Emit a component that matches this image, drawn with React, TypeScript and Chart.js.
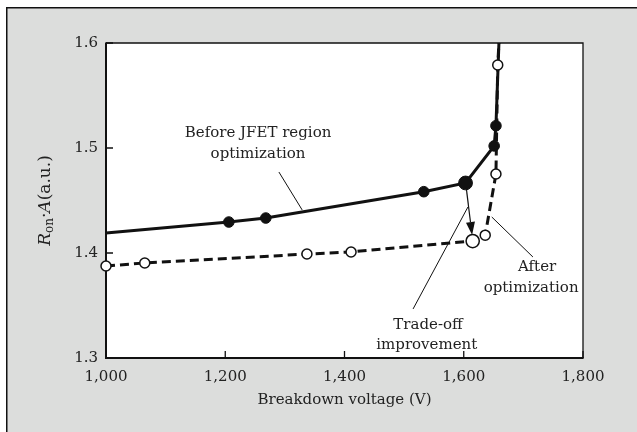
import React, { useEffect, useRef } from "react";
import { Chart, registerables } from "chart.js";

Chart.register(...registerables);

// ---- data ----
const xTickValues = [1000, 1200, 1400, 1600, 1800];
const yTickValues = [1.3, 1.4, 1.5, 1.6];

// Before JFET region optimization (solid, filled markers)
const beforeVoltage = [1000, 1206, 1268, 1533, 1603, 1651, 1654, 1659];
const beforeRonA = [1.419, 1.4295, 1.4333, 1.4584, 1.4667, 1.502, 1.5212, 1.6];

// After optimization (dashed, open markers)
const afterVoltage = [1000, 1065, 1337, 1411, 1615, 1636, 1654, 1657, 1659];
const afterRonA = [1.3876, 1.3905, 1.399, 1.401, 1.4114, 1.417, 1.4752, 1.579, 1.6];

const xTitle = "Breakdown voltage (V)";

// annotation texts and anchors (data units)
const noteTexts = ["Before JFET region", "optimization", "After", "optimization", "Trade-off", "improvement"];
const noteVoltage = [1255, 1255, 1723, 1713, 1540, 1538];
const noteRonA = [1.5143, 1.4943, 1.3867, 1.3667, 1.3314, 1.3124];

// leader lines [v1, r1, v2, r2]
const leaderLines = [
  [1290, 1.4771, 1329, 1.441],
  [1647, 1.4343, 1716, 1.3962],
  [1607, 1.4438, 1515, 1.3467],
];
// trade-off arrow [from v, from r, to v, to r]
const arrowLine = [1604, 1.4629, 1614, 1.4171];

// ---- styles ----
const GRAY = "#dcdddc";
const INK = "#111111";
const TEXT = "#222222";
const FONT = "'DejaVu Serif', serif";
const BEFORE_HIDDEN = [0, 7];
const BEFORE_BIG = 4;
const AFTER_HIDDEN = [8];
const AFTER_BIG = 4;
const R_SMALL = 5;
const R_BIG = 6.6;

const PLOT_LEFT = 106;
const PLOT_TOP = 43;
const PLOT_RIGHT_PAD = 54;
const X_AXIS_H = 74;

const decorPlugin = {
  id: "decor",
  beforeDraw(chart: any) {
    const { ctx, width, height, chartArea: a } = chart;
    ctx.save();
    ctx.fillStyle = "#ffffff";
    ctx.fillRect(0, 0, width, height);
    ctx.fillStyle = GRAY;
    ctx.fillRect(6, 7, width - 6, height - 7);
    ctx.strokeStyle = INK;
    ctx.lineWidth = 1.5;
    ctx.beginPath();
    ctx.moveTo(6.75, height);
    ctx.lineTo(6.75, 7.75);
    ctx.lineTo(width, 7.75);
    ctx.stroke();
    ctx.fillStyle = "#ffffff";
    ctx.fillRect(a.left, a.top, a.right - a.left, a.bottom - a.top);
    ctx.restore();
  },
  beforeDatasetsDraw(chart: any) {
    const { ctx, chartArea: a, scales } = chart;
    ctx.save();
    ctx.strokeStyle = INK;
    ctx.lineWidth = 1.3;
    ctx.beginPath();
    ctx.moveTo(a.left, a.top);
    ctx.lineTo(a.right, a.top);
    ctx.lineTo(a.right, a.bottom);
    ctx.stroke();
    ctx.lineWidth = 2;
    ctx.beginPath();
    ctx.moveTo(a.left, a.top - 0.6);
    ctx.lineTo(a.left, a.bottom);
    ctx.lineTo(a.right + 0.6, a.bottom);
    ctx.stroke();
    ctx.lineWidth = 1.3;
    ctx.beginPath();
    yTickValues.forEach((v) => {
      const y = scales.y.getPixelForValue(v);
      ctx.moveTo(a.left, y);
      ctx.lineTo(a.left + 7, y);
    });
    xTickValues.forEach((v) => {
      const x = scales.x.getPixelForValue(v);
      ctx.moveTo(x, a.bottom);
      ctx.lineTo(x, a.bottom - 7);
    });
    ctx.stroke();
    ctx.restore();
  },
  afterDatasetsDraw(chart: any) {
    const { ctx, chartArea: a, scales } = chart;
    const X = (v: number) => scales.x.getPixelForValue(v);
    const Y = (v: number) => scales.y.getPixelForValue(v);
    ctx.save();
    // leader lines
    ctx.strokeStyle = INK;
    ctx.lineWidth = 1;
    leaderLines.forEach(([v1, r1, v2, r2]) => {
      ctx.beginPath();
      ctx.moveTo(X(v1), Y(r1));
      ctx.lineTo(X(v2), Y(r2));
      ctx.stroke();
    });
    // arrow
    const [av1, ar1, av2, ar2] = arrowLine;
    const x1 = X(av1), y1 = Y(ar1), x2 = X(av2), y2 = Y(ar2);
    const ang = Math.atan2(y2 - y1, x2 - x1);
    const headLen = 13, headW = 4.5;
    const bx = x2 - headLen * Math.cos(ang), by = y2 - headLen * Math.sin(ang);
    ctx.lineWidth = 1.2;
    ctx.beginPath();
    ctx.moveTo(x1, y1);
    ctx.lineTo(bx, by);
    ctx.stroke();
    ctx.fillStyle = INK;
    ctx.beginPath();
    ctx.moveTo(x2, y2);
    ctx.lineTo(bx + headW * Math.sin(ang), by - headW * Math.cos(ang));
    ctx.lineTo(bx - headW * Math.sin(ang), by + headW * Math.cos(ang));
    ctx.closePath();
    ctx.fill();
    // notes
    ctx.fillStyle = TEXT;
    ctx.font = `15px ${FONT}`;
    ctx.textAlign = "center";
    ctx.textBaseline = "middle";
    noteTexts.forEach((t, i) => {
      ctx.fillText(t, X(noteVoltage[i]), Y(noteRonA[i]));
    });
    // x title
    ctx.fillText(xTitle, (a.left + a.right) / 2, 400);
    // y title: R_on·A(a.u.)
    const parts = [
      { t: "R", f: `italic 17px ${FONT}`, dy: 0 },
      { t: "on", f: `12px ${FONT}`, dy: 3 },
      { t: "·", f: `17px ${FONT}`, dy: 0 },
      { t: "A", f: `italic 17px ${FONT}`, dy: 0 },
      { t: "(a.u.)", f: `17px ${FONT}`, dy: 0 },
    ];
    let total = 0;
    const widths = parts.map((p) => {
      ctx.font = p.f;
      const w = ctx.measureText(p.t).width;
      total += w;
      return w;
    });
    ctx.translate(44, (a.top + a.bottom) / 2);
    ctx.rotate(-Math.PI / 2);
    ctx.textAlign = "left";
    ctx.textBaseline = "alphabetic";
    let cx = -total / 2;
    parts.forEach((p, i) => {
      ctx.font = p.f;
      ctx.fillText(p.t, cx, 6 + p.dy);
      cx += widths[i];
    });
    ctx.restore();
  },
};

export default function App() {
  const ref = useRef<HTMLCanvasElement | null>(null);
  useEffect(() => {
    if (!ref.current) return;
    const chart = new Chart(ref.current, {
      type: "line",
      data: {
        datasets: [
          {
            label: "After optimization",
            data: afterVoltage.map((v, i) => ({ x: v, y: afterRonA[i] })),
            borderColor: INK,
            borderWidth: 3,
            borderDash: [9, 5],
            backgroundColor: "#ffffff",
            pointBackgroundColor: "#ffffff",
            pointBorderColor: INK,
            pointBorderWidth: 1.5,
            pointRadius: (c: any) =>
              AFTER_HIDDEN.includes(c.dataIndex) ? 0 : c.dataIndex === AFTER_BIG ? R_BIG : R_SMALL,
            tension: 0,
            clip: false as any,
          },
          {
            label: "Before JFET region optimization",
            data: beforeVoltage.map((v, i) => ({ x: v, y: beforeRonA[i] })),
            borderColor: INK,
            borderWidth: 3,
            backgroundColor: INK,
            pointBackgroundColor: INK,
            pointBorderColor: INK,
            pointBorderWidth: 1,
            pointRadius: (c: any) =>
              BEFORE_HIDDEN.includes(c.dataIndex) ? 0 : c.dataIndex === BEFORE_BIG ? R_BIG + 0.3 : R_SMALL + 0.3,
            tension: 0,
            clip: false as any,
          },
        ],
      },
      options: {
        animation: false,
        responsive: false,
        maintainAspectRatio: false,
        events: [],
        layout: { padding: { top: PLOT_TOP, right: PLOT_RIGHT_PAD, left: 0, bottom: 0 } },
        plugins: { legend: { display: false }, tooltip: { enabled: false }, title: { display: false } },
        scales: {
          x: {
            type: "linear",
            min: 1000,
            max: 1800,
            afterBuildTicks: (s: any) => {
              s.ticks = xTickValues.map((v) => ({ value: v }));
            },
            afterFit: (s: any) => {
              s.height = X_AXIS_H;
            },
            border: { display: false },
            grid: { display: false, drawTicks: false },
            ticks: {
              padding: 10,
              color: TEXT,
              font: { family: FONT, size: 15 },
              maxRotation: 0,
              callback: (v: any) => Number(v).toLocaleString("en-US"),
            },
          },
          y: {
            type: "linear",
            min: 1.3,
            max: 1.6,
            afterBuildTicks: (s: any) => {
              s.ticks = yTickValues.map((v) => ({ value: v }));
            },
            afterFit: (s: any) => {
              s.width = PLOT_LEFT;
            },
            border: { display: false },
            grid: { display: false, drawTicks: false },
            ticks: {
              padding: 8,
              color: TEXT,
              font: { family: FONT, size: 15 },
              callback: (v: any) => Number(v).toFixed(1),
            },
          },
        },
      },
      plugins: [decorPlugin as any],
    });
    return () => chart.destroy();
  }, []);
  return (
    <div style={{ position: "fixed", left: 0, top: 0, width: 637, height: 432 }}>
      <canvas ref={ref} width={637} height={432} style={{ display: "block", width: 637, height: 432 }} />
    </div>
  );
}
